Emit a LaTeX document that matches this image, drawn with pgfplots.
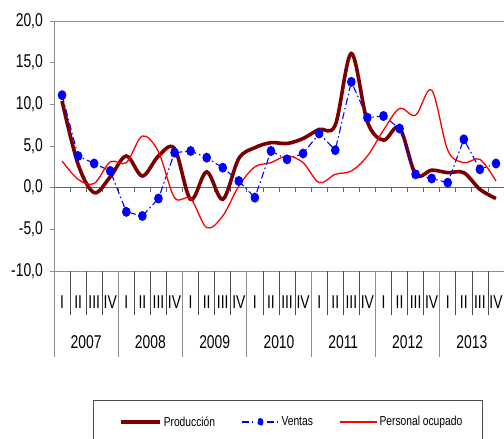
\documentclass[border=0pt]{standalone}
\usepackage{pgfplots}
\pgfplotsset{compat=1.18}
\usepackage{pgfplotstable}
\usepackage{fontspec}
\setmainfont{Liberation Sans}[FakeStretch=0.75]
\newfontfamily\legfont{Liberation Sans}[FakeStretch=0.79]
\definecolor{prod}{RGB}{122,0,0}
\definecolor{axgray}{RGB}{140,140,140}
\definecolor{vent}{RGB}{0,0,255}
\definecolor{pers}{RGB}{255,0,0}

\pgfplotstableread{
i prod vent pers
0 10.4 11.1 3.2
1 2.8 3.8 1.0
2 -0.6 2.9 0.5
3 1.3 2.0 3.1
4 3.8 -2.9 3.0
5 1.4 -3.4 6.2
6 3.8 -1.3 4.3
7 4.7 4.2 -1.2
8 -1.4 4.4 -1.3
9 1.9 3.6 -4.8
10 -1.4 2.4 -3.4
11 3.5 0.8 0.2
12 4.8 -1.2 2.5
13 5.4 4.4 3.0
14 5.3 3.4 3.8
15 5.9 4.1 3.0
16 7.0 6.5 0.6
17 7.5 4.5 1.6
18 16.1 12.7 2.0
19 7.9 8.4 3.8
20 5.7 8.6 6.9
21 7.2 7.1 9.5
22 1.6 1.6 8.7
23 2.1 1.1 11.7
24 1.8 0.6 4.5
25 1.8 5.8 3.0
26 -0.2 2.2 3.4
27 -1.3 2.9 0.8
}\datatable

\begin{document}
\begin{tikzpicture}
\useasboundingbox (0,0) rectangle (504bp,439bp);
\begin{axis}[
  at={(54bp,168bp)}, anchor=south west,
  scale only axis, width=450bp, height=250bp,
  xmin=-0.5, xmax=27.5, ymin=-10, ymax=20,
  clip=false,
  axis line style={axgray, line width=0.8bp},
  ytick={-10,-5,...,20},
  ytick pos=left,
  tick align=outside,
  major tick length=4bp,
  y tick style={axgray, line width=0.8bp},
  /pgf/number format/assume math mode=true,
  yticklabel style={/pgf/number format/.cd, fixed, fixed zerofill, precision=1, use comma, /tikz/.cd, font=\fontsize{18.5bp}{20bp}\selectfont, inner xsep=1bp, xshift=-6bp},
  xtick={0,...,27},
  xticklabels={I,II,III,IV,I,II,III,IV,I,II,III,IV,I,II,III,IV,I,II,III,IV,I,II,III,IV,I,II,III,IV},
  x tick style={draw=none},
  xtick pos=bottom,
  xticklabel style={font=\fontsize{18.5bp}{20bp}\selectfont, anchor=center, yshift=-27bp},
  legend columns=3,
  legend style={at={(axis description cs:0.1444,-0.604)}, anchor=west, draw=none, fill=none,
    inner sep=0pt, font=\legfont\fontsize{13bp}{15bp}\selectfont,
    /tikz/every even column/.append style={column sep=24bp}},
  legend cell align=left,
]
% zero line
\draw[black!60, line width=1.2bp] (axis cs:-0.5,0) -- (axis cs:27.5,0);
\pgfplotsinvokeforeach{0.5,1.5,2.5,3.5,4.5,5.5,6.5,7.5,8.5,9.5,10.5,11.5,12.5,13.5,14.5,15.5,16.5,17.5,18.5,19.5,20.5,21.5,22.5,23.5,24.5,25.5,26.5}{
  \draw[black!60, line width=0.8bp] (axis cs:#1,0) -- ([yshift=-4bp]axis cs:#1,0);
}
% category separators
\pgfplotsinvokeforeach{0.5,1.5,2.5,4.5,5.5,6.5,8.5,9.5,10.5,12.5,13.5,14.5,16.5,17.5,18.5,20.5,21.5,22.5,24.5,25.5,26.5}{
  \draw[black!70, line width=0.7bp] (axis cs:#1,-10) -- ([yshift=-44bp]axis cs:#1,-10);
}
\pgfplotsinvokeforeach{-0.5,3.5,7.5,11.5,15.5,19.5,23.5}{
  \draw[axgray, line width=0.8bp] (axis cs:#1,-10) -- ([yshift=-86bp]axis cs:#1,-10);
}
\node[font=\fontsize{18.5bp}{20bp}\selectfont] at ([yshift=-71bp]axis cs:1.5,-10) {2007};
\node[font=\fontsize{18.5bp}{20bp}\selectfont] at ([yshift=-71bp]axis cs:5.5,-10) {2008};
\node[font=\fontsize{18.5bp}{20bp}\selectfont] at ([yshift=-71bp]axis cs:9.5,-10) {2009};
\node[font=\fontsize{18.5bp}{20bp}\selectfont] at ([yshift=-71bp]axis cs:13.5,-10) {2010};
\node[font=\fontsize{18.5bp}{20bp}\selectfont] at ([yshift=-71bp]axis cs:17.5,-10) {2011};
\node[font=\fontsize{18.5bp}{20bp}\selectfont] at ([yshift=-71bp]axis cs:21.5,-10) {2012};
\node[font=\fontsize{18.5bp}{20bp}\selectfont] at ([yshift=-71bp]axis cs:25.5,-10) {2013};

\addplot[prod, line width=3.6bp, smooth, tension=0.55,
  legend image code/.code={\draw[prod, line width=3.6bp] (0bp,0bp) -- (39bp,0bp);}]
  table[x=i, y=prod] {\datatable};
\addlegendentry{Producción}

\addplot[vent, line width=1.1bp, dash pattern=on 7bp off 3bp on 1.5bp off 3bp,
  mark=*, mark size=4.4bp, mark options={solid, xscale=0.85, fill=vent, draw=vent},
  legend image code/.code={
    \draw[vent, line width=1.4bp] (0bp,0bp) -- (12bp,0bp);
    \draw[vent, line width=1.4bp] (25bp,0bp) -- (37bp,0bp);
    \fill[vent] (18.5bp,0bp) ellipse (2.6bp and 3.4bp);}]
  table[x=i, y=vent] {\datatable};
\addlegendentry{Ventas}

\addplot[pers, line width=1.3bp, smooth, tension=0.55,
  legend image code/.code={\draw[pers, line width=1.6bp] (0bp,0bp) -- (37bp,0bp);}]
  table[x=i, y=pers] {\datatable};
\addlegendentry{Personal ocupado}
\end{axis}
\draw[black!70, line width=0.8bp] (93bp,-20bp) -- (93bp,39bp) -- (482bp,39bp) -- (482bp,-20bp);
\end{tikzpicture}
\end{document}
